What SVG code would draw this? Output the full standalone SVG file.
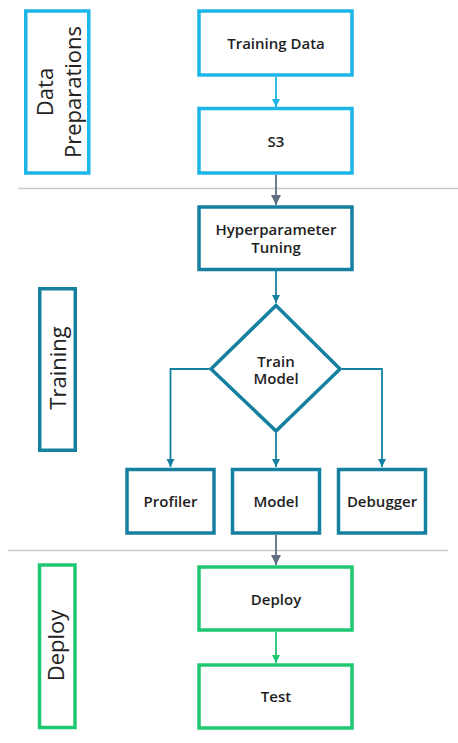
<svg xmlns="http://www.w3.org/2000/svg" width="458" height="743" viewBox="0 0 458 743">
<defs>
<style>
.box{fill:#fff;stroke-width:3.5}
.cy{stroke:#1bb5e8}
.tl{stroke:#1580a0}
.gr{stroke:#1dc870}
.t{font-family:"Open Sans","Liberation Sans",sans-serif;font-size:15px;font-weight:600;fill:#1e1e1e;text-anchor:middle}
.lab{font-family:"Open Sans","Liberation Sans",sans-serif;font-size:22px;font-weight:400;fill:#222;text-anchor:middle}
.sep{stroke:#c6cbd0;stroke-width:1.5}
.c{fill:none;stroke-width:1.8}
</style>
<marker id="aC" markerUnits="userSpaceOnUse" markerWidth="9" markerHeight="9" refX="8" refY="4" orient="auto"><path d="M0,0 L8,4 L0,8 z" fill="#1bb5e8"/></marker>
<marker id="aT" markerUnits="userSpaceOnUse" markerWidth="9" markerHeight="9" refX="8" refY="4" orient="auto"><path d="M0,0 L8,4 L0,8 z" fill="#1580a0"/></marker>
<marker id="aG" markerUnits="userSpaceOnUse" markerWidth="9" markerHeight="9" refX="8" refY="4" orient="auto"><path d="M0,0 L8,4 L0,8 z" fill="#1dc870"/></marker>
<marker id="aS" markerUnits="userSpaceOnUse" markerWidth="11" markerHeight="11" refX="10" refY="5" orient="auto"><path d="M0,0 L10,5 L0,10 z" fill="#5f6f80"/></marker>
</defs>
<rect width="458" height="743" fill="#fff"/>
<g id="separators">
<line class="sep" x1="18" y1="188.5" x2="458" y2="188.5"/>
<line class="sep" x1="8" y1="550.5" x2="448" y2="550.5"/>
</g>
<g id="lane-data">
<rect class="box cy" x="25.75" y="11" width="63" height="162"/>
<text class="lab" transform="translate(52.5,92) rotate(-90)"><tspan x="0" y="0">Data</tspan><tspan x="0" y="28">Preparations</tspan></text>
</g>
<g id="lane-training">
<rect class="box tl" x="39.75" y="288.75" width="35.5" height="161.5"/>
<text class="lab" transform="translate(65.5,368) rotate(-90)">Training</text>
</g>
<g id="lane-deploy">
<rect class="box gr" x="39.5" y="565" width="35.5" height="162.5"/>
<text class="lab" transform="translate(64,645.5) rotate(-90)">Deploy</text>
</g>
<g id="connectors">
<line class="c" stroke="#1bb5e8" x1="276" y1="77" x2="276" y2="107" marker-end="url(#aC)"/>
<line class="c" stroke="#5f6f80" x1="276" y1="175" x2="276" y2="205" marker-end="url(#aS)"/>
<line class="c" stroke="#1580a0" x1="276" y1="271" x2="276" y2="303" marker-end="url(#aT)"/>
<path class="c" stroke="#1580a0" d="M209,369 H170.5 V467" marker-end="url(#aT)"/>
<path class="c" stroke="#1580a0" d="M276,433 V467" marker-end="url(#aT)"/>
<path class="c" stroke="#1580a0" d="M342,369 H382 V467" marker-end="url(#aT)"/>
<line class="c" stroke="#5f6f80" x1="276" y1="535" x2="276" y2="565" marker-end="url(#aS)"/>
<line class="c" stroke="#1dc870" x1="276" y1="632" x2="276" y2="663" marker-end="url(#aG)"/>
</g>
<g id="training-data">
<rect class="box cy" x="199" y="11" width="153" height="64"/>
<text class="t" x="276" y="49">Training Data</text>
</g>
<g id="s3">
<rect class="box cy" x="199" y="108.5" width="153" height="64.5"/>
<text class="t" x="276" y="146.5">S3</text>
</g>
<g id="hyperparameter-tuning">
<rect class="box tl" x="199" y="207" width="153" height="62.5"/>
<text class="t"><tspan x="276" y="235">Hyperparameter</tspan><tspan x="276" y="252.5">Tuning</tspan></text>
</g>
<g id="train-model">
<polygon class="box tl" stroke-width="4" points="276,305.5 340,369 276,431 211,369"/>
<text class="t"><tspan x="276" y="366.5">Train</tspan><tspan x="276" y="384">Model</tspan></text>
</g>
<g id="profiler">
<rect class="box tl" x="127" y="469.5" width="87" height="63.5"/>
<text class="t" x="170.5" y="506.5">Profiler</text>
</g>
<g id="model">
<rect class="box tl" x="232.5" y="469.5" width="87" height="63.5"/>
<text class="t" x="276" y="506.5">Model</text>
</g>
<g id="debugger">
<rect class="box tl" x="338.5" y="469.5" width="87" height="63.5"/>
<text class="t" x="382" y="506.5">Debugger</text>
</g>
<g id="deploy">
<rect class="box gr" x="199" y="567" width="153" height="63"/>
<text class="t" x="276" y="605">Deploy</text>
</g>
<g id="test">
<rect class="box gr" x="199" y="665" width="153" height="63"/>
<text class="t" x="276" y="701.5">Test</text>
</g>
</svg>
